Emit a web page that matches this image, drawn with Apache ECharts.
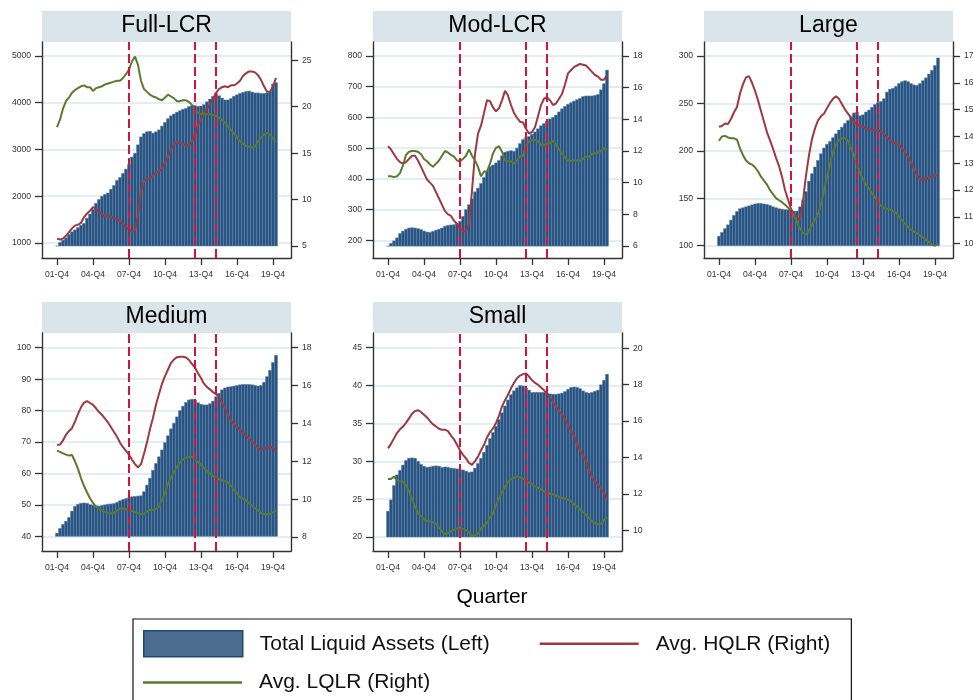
<!DOCTYPE html>
<html><head><meta charset="utf-8">
<script src="https://cdn.jsdelivr.net/npm/echarts@6.0.0/dist/echarts.min.js"></script>
<style>html,body{margin:0;padding:0;background:#fff}#c{width:973px;height:700px}</style>
</head><body><div id="c"></div>
<script>
// ---- tick labels & events (quarters since 2001-Q4) ----
const xTickLabels = ['01-Q4','04-Q4','07-Q4','10-Q4','13-Q4','16-Q4','19-Q4'];
const eventQuarters = ['07-Q4','13-Q2','15-Q1'];

// ---- Full-LCR ----
const fullLcrAssets = [936,1010,1060,1110,1180,1240,1280,1330,1380,1420,1530,1620,1720,1850,1930,2000,2040,2070,2150,2230,2340,2400,2490,2580,2680,2840,2920,3100,3270,3340,3380,3390,3350,3380,3420,3500,3580,3660,3720,3760,3800,3830,3860,3880,3920,3940,3940,3920,3930,3960,4020,4080,4140,4200,4150,4100,4060,4060,4090,4140,4170,4200,4220,4240,4250,4230,4210,4210,4200,4200,4210,4230,4400,4430];
const fullLcrHqlr = [5.8,5.7,5.8,6.1,6.5,6.9,7.2,7.3,7.5,8.1,8.5,8.8,9.2,9.0,8.7,8.4,8.2,8.2,8.15,8.0,7.9,7.7,7.4,7.0,6.8,6.5,6.7,8.3,10.9,12.0,12.2,12.3,12.6,12.9,13.1,13.3,14.0,14.6,15.4,16.0,16.2,16.1,16.0,15.8,15.9,16.2,17.0,18.0,18.7,19.3,19.8,20.3,20.8,21.5,21.9,22.1,22.2,22.1,22.3,22.3,22.5,22.8,23.3,23.6,23.8,23.8,23.7,23.4,22.9,22.2,21.6,21.6,22.2,23.1];
const fullLcrLqlr = [17.8,18.6,19.8,20.6,21.0,21.5,21.8,22.0,22.2,22.3,22.1,22.1,21.7,22.0,22.1,22.2,22.4,22.5,22.6,22.7,22.8,22.8,23.1,23.5,24.0,24.9,25.4,24.5,22.8,21.9,21.6,21.3,21.1,21.0,20.8,20.7,21.0,21.3,21.1,20.9,20.6,20.6,20.7,20.7,20.5,20.2,19.8,19.4,19.2,19.2,19.2,19.2,19.1,19.0,18.8,18.6,18.3,17.9,17.5,17.1,16.7,16.3,16.0,15.8,15.7,15.6,15.7,16.2,16.7,17.0,17.2,17.0,16.6,16.2];
const fullLcrLeftTicks = [1000,2000,3000,4000,5000];
const fullLcrRightTicks = [5,10,15,20,25];

// ---- Mod-LCR ----
const modLcrAssets = [181,190,198,208,222,230,236,240,241,240,238,235,230,227,226,229,233,236,240,246,249,250,251,255,262,278,300,316,335,358,370,385,405,425,440,445,452,460,475,487,490,492,490,500,515,528,535,538,545,553,563,573,580,588,595,600,608,618,628,636,643,648,653,658,662,668,670,670,670,672,675,690,710,754];
const modLcrHqlr = [12.3,12.1,11.8,11.5,11.3,11.2,11.3,11.5,11.7,11.7,11.4,11.0,10.6,10.2,10.0,9.8,9.4,9.0,8.6,8.2,8.0,7.9,7.6,7.4,7.1,6.95,6.9,7.4,9.5,11.8,13.1,13.6,14.4,15.2,15.15,14.75,14.5,14.7,15.2,15.8,15.5,14.9,14.4,14.1,13.85,13.8,13.4,13.1,13.2,13.5,14.2,14.9,15.3,15.4,15.2,14.9,15.0,15.3,15.6,16.2,16.9,17.1,17.3,17.4,17.5,17.45,17.4,17.2,17.0,16.8,16.7,16.5,16.5,16.8];
const modLcrLqlr = [10.4,10.4,10.35,10.4,10.6,11.1,11.75,11.95,12.0,12.0,11.95,11.8,11.5,11.35,11.15,11.0,11.2,11.4,11.7,12.0,11.9,11.75,11.65,11.4,11.35,11.5,11.7,12.1,11.7,11.4,11.0,10.4,10.7,10.7,11.2,11.85,12.2,12.3,11.95,11.4,11.35,11.35,11.2,11.4,11.65,11.7,12.3,12.6,12.7,12.7,12.6,12.4,12.4,12.45,12.5,12.65,12.4,12.1,11.85,11.6,11.4,11.37,11.4,11.4,11.37,11.5,11.64,11.64,11.8,11.85,11.9,12.0,12.17,12.1];
const modLcrLeftTicks = [200,300,400,500,600,700,800];
const modLcrRightTicks = [6,8,10,12,14,16,18];

// ---- Large ----
const largeAssets = [110,114,118,122,127,132,136,139,140,141,142,143,144,144.5,144.5,144,143.5,142.5,141,140,139,138.5,138,138,137,136.5,136.5,141,148,157,168,176,183,190,197,203,207,210,214,218,222,225,229,232,236,240,241,237,238,241,243,246,249,251,252,255,262,265,266,268,271,273,274,273,271,269.5,269,271,274,277,281,285,290,298];
const largeHqlr = [14.36,14.39,14.48,14.46,14.65,14.9,15.1,15.6,15.95,16.2,16.25,16.0,15.7,15.35,14.95,14.55,14.15,13.85,13.55,13.2,12.9,12.5,12.0,11.65,11.3,11.1,10.95,10.9,11.6,12.55,13.3,13.9,14.3,14.6,14.75,14.85,15.05,15.25,15.4,15.5,15.4,15.2,15.0,14.85,14.7,14.55,14.45,14.4,14.35,14.3,14.28,14.25,14.23,14.22,14.18,14.1,13.98,13.85,13.77,13.73,13.68,13.56,13.4,13.25,13.05,12.75,12.55,12.4,12.37,12.4,12.47,12.52,12.54,12.54];
const largeLqlr = [13.84,14.0,14.02,13.96,13.93,13.93,13.88,13.55,13.3,13.1,13.0,12.95,12.85,12.7,12.5,12.35,12.2,12.0,11.85,11.7,11.62,11.55,11.45,11.35,11.2,11.05,10.8,10.55,10.4,10.34,10.5,10.7,10.9,11.1,11.45,12.0,12.5,12.95,13.4,13.7,13.87,13.93,13.93,13.83,13.55,13.3,12.95,12.65,12.4,12.2,12.05,11.88,11.72,11.55,11.42,11.33,11.3,11.28,11.22,11.15,11.02,10.88,10.74,10.62,10.52,10.45,10.38,10.3,10.23,10.15,10.05,9.95,9.93,9.99];
const largeLeftTicks = [100,150,200,250,300];
const largeRightTicks = [10,11,12,13,14,15,16,17];

// ---- Medium ----
const mediumAssets = [41,42.5,43.8,44.8,46,48,49.5,50.2,50.5,50.6,50.5,50.1,49.9,49.7,49.6,49.8,50.0,50.2,50.3,50.4,50.8,51.3,51.7,52.0,52.3,52.6,52.7,52.8,52.9,54.2,56.3,58.5,61,63.2,65.3,67.5,69.8,72,74.2,76,78,80,81.4,82.6,83.4,83.6,83.4,82.5,82,81.8,81.8,82.2,83,84.4,85.5,86.6,87.2,87.5,87.6,87.8,88,88.2,88.3,88.3,88.3,88.2,88,87.8,88,89,90.8,92.8,95.3,97.6];
const mediumHqlr = [12.86,12.88,13.1,13.4,13.6,13.75,14.1,14.5,14.85,15.1,15.18,15.08,14.98,14.8,14.6,14.45,14.25,14.05,13.8,13.55,13.3,12.98,12.75,12.55,12.35,12.08,11.85,11.68,11.85,12.4,13.0,13.7,14.3,15.0,15.55,16.1,16.5,16.85,17.2,17.38,17.5,17.52,17.52,17.48,17.35,17.15,16.94,16.65,16.4,16.1,15.92,15.8,15.65,15.55,15.4,15.1,14.8,14.45,14.15,13.95,13.8,13.65,13.5,13.35,13.2,13.05,12.88,12.7,12.6,12.68,12.72,12.75,12.72,12.5];
const mediumLqlr = [12.56,12.5,12.42,12.35,12.3,12.33,12.0,11.6,11.1,10.7,10.35,10.05,9.8,9.6,9.48,9.4,9.33,9.27,9.25,9.25,9.4,9.5,9.5,9.47,9.43,9.38,9.33,9.25,9.2,9.23,9.35,9.43,9.43,9.48,9.6,9.95,10.35,10.8,11.15,11.45,11.7,11.95,12.1,12.2,12.24,12.22,12.12,11.95,11.8,11.65,11.5,11.35,11.22,11.12,11.05,11.0,10.95,10.88,10.7,10.5,10.3,10.12,10.03,9.93,9.8,9.65,9.52,9.4,9.27,9.22,9.2,9.22,9.3,9.37];
const mediumLeftTicks = [40,50,60,70,80,90,100];
const mediumRightTicks = [8,10,12,14,16,18];

// ---- Small ----
const smallAssets = [23.4,24.9,26.8,28.2,28.8,29.5,30.1,30.4,30.45,30.4,30.0,29.6,29.35,29.2,29.25,29.35,29.4,29.35,29.2,29.25,29.2,29.1,29.05,29.0,28.9,28.85,28.7,28.55,28.6,29.1,29.7,30.4,31.2,32.1,33.0,33.8,34.6,35.5,36.4,37.3,38.1,38.8,39.3,39.7,40.0,39.95,39.7,39.4,39.1,39.1,39.1,39.1,39.1,39.0,38.9,38.85,38.85,38.9,39.0,39.2,39.5,39.75,39.8,39.75,39.6,39.3,39.1,39.0,39.1,39.25,39.4,40.1,40.7,41.5];
const smallHqlr = [14.5,14.75,15.05,15.35,15.55,15.7,15.9,16.15,16.4,16.55,16.6,16.5,16.35,16.2,16.0,15.82,15.7,15.58,15.52,15.53,15.45,15.2,15.0,14.7,14.4,14.15,13.95,13.7,13.6,13.8,14.05,14.4,14.7,15.1,15.4,15.6,15.9,16.3,16.8,17.15,17.45,17.8,18.1,18.35,18.5,18.58,18.62,18.45,18.25,18.1,18.0,17.85,17.7,17.5,17.3,17.05,16.8,16.58,16.35,16.1,15.8,15.45,15.2,14.7,14.4,14.1,13.8,13.3,12.9,12.7,12.5,12.3,12.05,11.7];
const smallLqlr = [12.82,12.82,12.95,12.75,12.7,12.67,12.45,12.15,11.7,11.3,10.95,10.78,10.6,10.5,10.5,10.45,10.35,10.15,9.95,9.8,9.85,9.95,10.03,10.1,10.15,10.08,10.0,9.88,9.7,9.72,9.8,10.1,10.25,10.4,10.7,10.95,11.35,11.75,12.1,12.4,12.65,12.82,12.9,12.95,12.92,12.85,12.75,12.62,12.53,12.42,12.33,12.24,12.15,12.08,12.02,11.97,11.9,11.83,11.77,11.74,11.7,11.6,11.45,11.3,11.15,11.0,10.85,10.68,10.5,10.4,10.33,10.36,10.55,10.7];
const smallLeftTicks = [20,25,30,35,40,45];
const smallRightTicks = [10,12,14,16,18,20];

const panels = [
  {name:'Full-LCR', assets:fullLcrAssets, hqlr:fullLcrHqlr, lqlr:fullLcrLqlr, lt:fullLcrLeftTicks, rt:fullLcrRightTicks},
  {name:'Mod-LCR', assets:modLcrAssets, hqlr:modLcrHqlr, lqlr:modLcrLqlr, lt:modLcrLeftTicks, rt:modLcrRightTicks},
  {name:'Large', assets:largeAssets, hqlr:largeHqlr, lqlr:largeLqlr, lt:largeLeftTicks, rt:largeRightTicks},
  {name:'Medium', assets:mediumAssets, hqlr:mediumHqlr, lqlr:mediumLqlr, lt:mediumLeftTicks, rt:mediumRightTicks},
  {name:'Small', assets:smallAssets, hqlr:smallHqlr, lqlr:smallLqlr, lt:smallLeftTicks, rt:smallRightTicks}
];

// ---- layout (pixels / axis ranges) ----
const layouts = [
  {left:42, top:42, height:216, yl:[679,5299.5], yr:[3.71,26.97]},
  {left:373, top:42, height:216, yl:[142.4,845.6], yr:[5.242,18.884]},
  {left:704, top:42, height:216, yl:[87.0,314.8], yr:[9.467,17.52]},
  {left:42, top:333, height:218, yl:[35.32,104.68], yr:[7.26,18.777]},
  {left:373, top:333, height:218, yl:[18.15,46.94], yr:[8.863,20.84]}
];
const PW = 249, STRIP = 31;
const FONT = "'Liberation Sans', Arial, Helvetica, sans-serif";
const TLA = 'Total Liquid Assets (Left)', HQ = 'Avg. HQLR (Right)', LQ = 'Avg. LQLR (Right)';
const AX = '#333';
const BAR_FILL = '#2a5482', BAR_EDGE = '#5a80a9', RED = '#9b3a40', GREEN = '#5b7a30';
const LINE_ICON = 'path://M0,0L100,0L100,2.5L0,2.5Z';

function qIndex(lbl){ const yy = +lbl.slice(0,2), q = +lbl.slice(4); return (yy-1)*4 + q - 4; }
const xTicks = xTickLabels.map(qIndex);

const grids=[], xAxes=[], yAxes=[], series=[], graphics=[];
panels.forEach((p,k)=>{
  const L = layouts[k];
  grids.push({left:L.left, top:L.top, width:PW, height:L.height, containLabel:false, outerBoundsMode:'none'});
  const axLine = {show:true, onZero:false, lineStyle:{color:AX, width:1.4}};
  const lab = {fontSize:8.6, color:'#333', fontFamily:FONT};
  xAxes.push({type:'value', gridIndex:k, min:-5, max:78, axisLine:axLine,
    axisTick:{show:true, customValues:xTicks, length:7, lineStyle:{color:AX, width:1.3}},
    axisLabel:Object.assign({customValues:xTicks, margin:12, formatter:v=>xTickLabels[xTicks.indexOf(v)]}, lab),
    splitLine:{show:false}});
  yAxes.push({type:'value', gridIndex:k, position:'left', min:L.yl[0], max:L.yl[1], axisLine:axLine,
    axisTick:{show:true, customValues:p.lt, length:7, lineStyle:{color:AX, width:1.3}},
    axisLabel:Object.assign({customValues:p.lt, margin:11, formatter:v=>String(v)}, lab),
    splitLine:{show:true, lineStyle:{color:'#e4edf1', width:2}}});
  yAxes.push({type:'value', gridIndex:k, position:'right', min:L.yr[0], max:L.yr[1], axisLine:axLine,
    axisTick:{show:true, customValues:p.rt, length:7, lineStyle:{color:AX, width:1.3}},
    axisLabel:Object.assign({customValues:p.rt, margin:11, formatter:v=>String(v)}, lab),
    splitLine:{show:false}});
  // bars start at the lower end of the left scale (min of data and lowest tick)
  const base = Math.min(Math.min(...p.assets), Math.min(...p.lt));
  series.push({type:'custom', name:TLA, xAxisIndex:k, yAxisIndex:2*k, z:2,
    itemStyle:{color:BAR_FILL},
    encode:{x:0, y:1},
    data:p.assets.map((v,i)=>[i, v]),
    renderItem:(params, api)=>{
      const x = api.value(0), v = api.value(1);
      const top = api.coord([x, v]);
      const bot = api.coord([x, base]);
      const w = api.size([1, 0])[0];
      return {type:'rect', shape:{x:top[0]-w/2, y:top[1], width:w, height:bot[1]-top[1]},
        style:{fill:BAR_FILL, stroke:BAR_EDGE, lineWidth:0.5}};
    }});
  series.push({type:'line', name:HQ, xAxisIndex:k, yAxisIndex:2*k+1, symbol:'none', showSymbol:false, z:3,
    lineStyle:{color:RED, width:2}, itemStyle:{color:RED},
    data:p.hqlr.map((v,i)=>[i, v]),
    markLine:{silent:true, symbol:['none','none'], animation:false, label:{show:false},
      lineStyle:{color:'#d2143c', width:2, type:[9,4]},
      data:eventQuarters.map(q=>({xAxis:qIndex(q)}))}});
  series.push({type:'line', name:LQ, xAxisIndex:k, yAxisIndex:2*k+1, symbol:'none', showSymbol:false, z:3,
    lineStyle:{color:GREEN, width:2}, itemStyle:{color:GREEN},
    data:p.lqlr.map((v,i)=>[i, v])});
  graphics.push({type:'rect', silent:true, shape:{x:L.left, y:L.top-STRIP, width:PW, height:STRIP}, style:{fill:'#d9e5eb'}});
  graphics.push({type:'text', silent:true, x:L.left+PW/2, y:L.top-STRIP/2-0.5,
    style:{text:p.name, fill:'#000', fontSize:23, fontFamily:FONT, align:'center', verticalAlign:'middle', textAlign:'center', textVerticalAlign:'middle'}});
});
graphics.push({type:'text', silent:true, x:492, y:597,
  style:{text:'Quarter', fill:'#000', fontSize:21, fontFamily:FONT, align:'center', verticalAlign:'middle', textAlign:'center', textVerticalAlign:'middle'}});

const legendText = {fontSize:21, color:'#111', fontFamily:FONT, padding:[0,0,0,12]};
const chart = echarts.init(document.getElementById('c'), null, {renderer:'canvas'});
chart.setOption({
  animation:false,
  backgroundColor:'#fff',
  grid:grids, xAxis:xAxes, yAxis:yAxes, series:series, graphic:graphics,
  legend:[
    {left:133, top:619, orient:'horizontal', itemGap:50, itemWidth:99, itemHeight:26,
     padding:[11,21,70,10], borderColor:'#111', borderWidth:1.2, selectedMode:false, symbolKeepAspect:true,
     textStyle:legendText,
     data:[
       {name:TLA, icon:'rect', itemStyle:{color:'#4a6d8f', borderColor:'#1f4a73', borderWidth:1.5}},
       {name:HQ, icon:LINE_ICON, itemStyle:{color:RED}}
     ]},
    {left:143, top:672, orient:'horizontal', itemWidth:99, itemHeight:26, padding:0, selectedMode:false, symbolKeepAspect:true,
     textStyle:legendText,
     data:[{name:LQ, icon:LINE_ICON, itemStyle:{color:GREEN}}]}
  ]
});
</script></body></html>
